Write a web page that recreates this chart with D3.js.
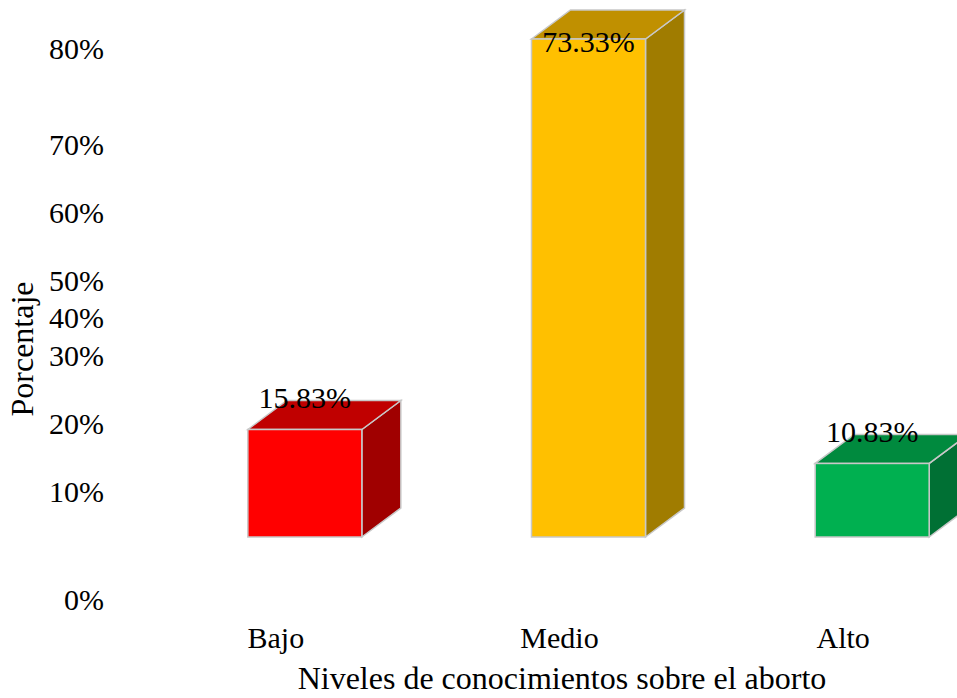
<!DOCTYPE html>
<html>
<head>
<meta charset="utf-8">
<script src="https://cdn.jsdelivr.net/npm/d3@7"></script>
<style>
  body { margin: 0; background: #fff; }
  text { font-family: 'Liberation Serif', 'Times New Roman', serif; }
</style>
</head>
<body>
<div id="chart"></div>
<script>
const categories = ['Bajo', 'Medio', 'Alto']
const values = [15.83, 73.33, 10.83]
const tickValues = [0, 10, 20, 30, 40, 50, 60, 70, 80]
const tickLabels = ['0%', '10%', '20%', '30%', '40%', '50%', '60%', '70%', '80%']

// the original axis labels sit at uneven heights, so map them piecewise
const tickYs = [599, 491, 423, 355, 317, 280, 212, 144, 48]

const frontColors = ['#ff0000', '#ffc000', '#00b050']
const topColors = ['#c00000', '#c09000', '#008a3e']
const sideColors = ['#a00000', '#a07c00', '#007034']

const width = 957
const height = 698

const svg = d3
  .select('#chart')
  .append('svg')
  .attr('width', width)
  .attr('height', height)

const x = d3
  .scaleBand()
  .domain(categories)
  .range([134, 985])
  .paddingInner(0.6)
  .paddingOuter(0.3)

const y = d3
  .scaleLinear()
  .domain([0, 73.33])
  .range([537, 39])

const tickY = d3.scaleLinear().domain(tickValues).range(tickYs)

const barW = 114
const shift = 29
const dx = 39
const dy = -29

const bars = svg
  .selectAll('g.bar')
  .data(categories)
  .enter()
  .append('g')
  .attr('class', 'bar')

bars.each(function(d, i) {
  const g = d3.select(this)
  const cx = x(d) + x.bandwidth() / 2 + shift
  const x0 = cx - barW / 2
  const x1 = cx + barW / 2
  const yTop = y(values[i])
  const yBot = y(0)

  // side face
  g.append('path')
    .attr('d', `M${x1},${yBot}L${x1 + dx},${yBot + dy}L${x1 + dx},${yTop + dy}L${x1},${yTop}Z`)
    .attr('fill', sideColors[i])
    .attr('stroke', '#c8c8c8')
    .attr('stroke-width', 1.5)
  // top face
  g.append('path')
    .attr('d', `M${x0},${yTop}L${x0 + dx},${yTop + dy}L${x1 + dx},${yTop + dy}L${x1},${yTop}Z`)
    .attr('fill', topColors[i])
    .attr('stroke', '#c8c8c8')
    .attr('stroke-width', 1.5)
  // front face
  g.append('rect')
    .attr('x', x0)
    .attr('y', yTop)
    .attr('width', barW)
    .attr('height', yBot - yTop)
    .attr('fill', frontColors[i])
    .attr('stroke', '#c8c8c8')
    .attr('stroke-width', 1.5)

  g.append('text')
    .text(values[i].toFixed(2) + '%')
    .attr('x', cx)
    .attr('y', Math.max(yTop - 21, 52))
    .attr('text-anchor', 'middle')
    .attr('font-size', 30)
    .attr('fill', '#000')
})

svg
  .selectAll('text.tick')
  .data(tickValues)
  .enter()
  .append('text')
  .attr('class', 'tick')
  .text((d, i) => tickLabels[i])
  .attr('x', 104)
  .attr('y', d => tickY(d))
  .attr('dy', '0.35em')
  .attr('text-anchor', 'end')
  .attr('font-size', 30)

svg
  .selectAll('text.cat')
  .data(categories)
  .enter()
  .append('text')
  .attr('class', 'cat')
  .text(d => d)
  .attr('x', d => x(d) + x.bandwidth() / 2)
  .attr('y', 648)
  .attr('text-anchor', 'middle')
  .attr('font-size', 30)

svg
  .append('text')
  .text('Niveles de conocimientos sobre el aborto')
  .attr('x', 562)
  .attr('y', 689)
  .attr('text-anchor', 'middle')
  .attr('font-size', 32)

svg
  .append('text')
  .text('Porcentaje')
  .attr('transform', 'translate(33,349) rotate(-90)')
  .attr('text-anchor', 'middle')
  .attr('font-size', 32)
</script>
</body>
</html>
